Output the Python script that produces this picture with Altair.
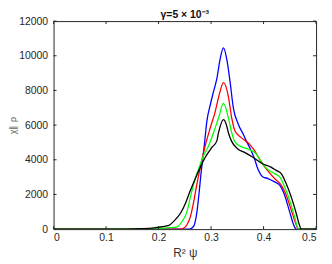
import altair as alt
import pandas as pd

# ---- data ----
blue_x = [0, 0.2, 0.255, 0.2608, 0.267, 0.2732, 0.2777, 0.2808, 0.2845, 0.2877, 0.292, 0.2985,
          0.3047, 0.311, 0.3173, 0.3236, 0.3298, 0.3362, 0.3425, 0.352, 0.3613, 0.367, 0.3764,
          0.3827, 0.389, 0.399, 0.4085, 0.421, 0.4306, 0.44, 0.4494, 0.4588, 0.462, 0.5]
blue_y = [0, 0, 0, 20, 170, 1022, 2253, 3200, 4143, 5000, 6226, 7174,
          7929, 8683, 9818, 10450, 9818, 8496, 6981, 6039, 5471, 5090, 4523,
          4052, 3485, 3008, 2917, 2724, 2537, 1969, 1022, 136, 0, 0]

red_x = [0, 0.235, 0.245, 0.2543, 0.2608, 0.267, 0.2732, 0.2796, 0.2858, 0.2905, 0.2985, 0.308,
         0.3154, 0.3236, 0.333, 0.3393, 0.3456, 0.3575, 0.373, 0.3827, 0.392, 0.4047, 0.421,
         0.4336, 0.443, 0.4525, 0.462, 0.466, 0.5]
red_y = [0, 0, 20, 267, 738, 1589, 2633, 3575, 4427, 5000, 5845, 6793,
         7741, 8450, 7645, 6413, 5658, 5278, 4903, 4523, 4052, 3485, 2917,
         2537, 1969, 1118, 267, 0, 0]

green_x = [0, 0.1, 0.18, 0.2198, 0.2355, 0.245, 0.2543, 0.2608, 0.267, 0.2764, 0.2858, 0.2953,
           0.3047, 0.3142, 0.3236, 0.333, 0.3393, 0.3443, 0.354, 0.37, 0.386, 0.398, 0.4085,
           0.421, 0.4306, 0.44, 0.4494, 0.4588, 0.465, 0.468, 0.5]
green_y = [0, 0, 20, 80, 136, 454, 1022, 1873, 2633, 3485, 4240, 4807,
           5562, 6413, 7250, 6413, 5562, 5100, 4807, 4620, 4336, 3768, 3428,
           3200, 3008, 2440, 1686, 738, 80, 0, 0]

black_x = [0, 0.1, 0.17, 0.195, 0.2198, 0.229, 0.242, 0.2513, 0.2608, 0.27, 0.2796, 0.289,
           0.3015, 0.311, 0.3142, 0.3236, 0.329, 0.333, 0.3387, 0.351, 0.3638, 0.3796, 0.398,
           0.414, 0.424, 0.4336, 0.443, 0.4525, 0.462, 0.468, 0.4713, 0.475, 0.5]
black_y = [0, 0, 30, 90, 220, 454, 930, 1498, 2253, 2917, 3575, 4143,
           4710, 5090, 5562, 6322, 6039, 5562, 5090, 4620, 4427, 4143, 3768,
           3575, 3388, 3200, 2633, 1873, 930, 267, 20, 0, 0]

series_names = ["blue", "red", "green", "black"]
series_colors = ["#0000ff", "#ff0000", "#00ff00", "#000000"]

x_ticks = [0, 0.1, 0.2, 0.3, 0.4, 0.5]
y_ticks = [0, 2000, 4000, 6000, 8000, 10000, 12000]

title_text = "γ=5 × 10⁻³"
x_title = "R² ψ"
y_title = "χ∥ ρ"

# ---- build tables ----
rows = []
for name, xs, ys in zip(series_names, [blue_x, red_x, green_x, black_x],
                        [blue_y, red_y, green_y, black_y]):
    for i, (a, b) in enumerate(zip(xs, ys)):
        rows.append({"s": name, "x": a, "y": b, "i": i})
df = pd.DataFrame(rows)
xt = pd.DataFrame({"v": x_ticks})
yt = pd.DataFrame({"v": y_ticks})

W, H = 265, 210
AX = "#262626"

xscale = alt.Scale(domain=[0, 0.5], nice=False, zero=False)
yscale = alt.Scale(domain=[0, 12000], nice=False)

xaxis = alt.Axis(values=x_ticks, title=x_title, format="~g", labelOverlap=False,
                 labelPadding=4, titlePadding=4, titleFontSize=12,
                 titleFontWeight="normal", titleColor="#333333")
yaxis = alt.Axis(values=y_ticks, title=y_title, format="d", labelOverlap=False,
                 labelPadding=6, titlePadding=1, titleFontSize=9,
                 titleFontWeight="normal", titleColor="#666666")

lines = alt.Chart(df).mark_line(strokeWidth=1.3, clip=True, interpolate="monotone").encode(
    x=alt.X("x:Q", scale=xscale, axis=xaxis),
    y=alt.Y("y:Q", scale=yscale, axis=yaxis),
    color=alt.Color("s:N", scale=alt.Scale(domain=series_names, range=series_colors), legend=None),
    order="i:Q",
)

tick_b = alt.Chart(xt).mark_rule(color=AX, strokeWidth=1).encode(
    x=alt.X("v:Q", scale=xscale, axis=xaxis), y=alt.value(H), y2=alt.value(H - 3))
tick_t = alt.Chart(xt).mark_rule(color=AX, strokeWidth=1).encode(
    x=alt.X("v:Q", scale=xscale, axis=xaxis), y=alt.value(0), y2=alt.value(3))
tick_l = alt.Chart(yt).mark_rule(color=AX, strokeWidth=1).encode(
    y=alt.Y("v:Q", scale=yscale, axis=yaxis), x=alt.value(0), x2=alt.value(3))
tick_r = alt.Chart(yt).mark_rule(color=AX, strokeWidth=1).encode(
    y=alt.Y("v:Q", scale=yscale, axis=yaxis), x=alt.value(W), x2=alt.value(W - 3))

chart = alt.layer(lines, tick_b, tick_t, tick_l, tick_r).properties(
    width=W, height=H,
    background="white",
    title=alt.TitleParams(title_text, fontSize=10.5, fontWeight="bold", color="#111111",
                          offset=-4, anchor="middle", frame="group", font="Liberation Sans"),
    autosize=alt.AutoSizeParams(type="none"),
    padding={"left": 46, "top": 12, "right": 8, "bottom": 34},
).configure_view(stroke=AX, strokeWidth=1).configure_axis(
    domain=False, ticks=False, grid=False, labelFontSize=10.5, labelColor="#262626",
    labelFont="Liberation Sans", titleFont="Liberation Sans",
)

chart.save("out.html", embed_options={"renderer": "svg", "actions": False})
